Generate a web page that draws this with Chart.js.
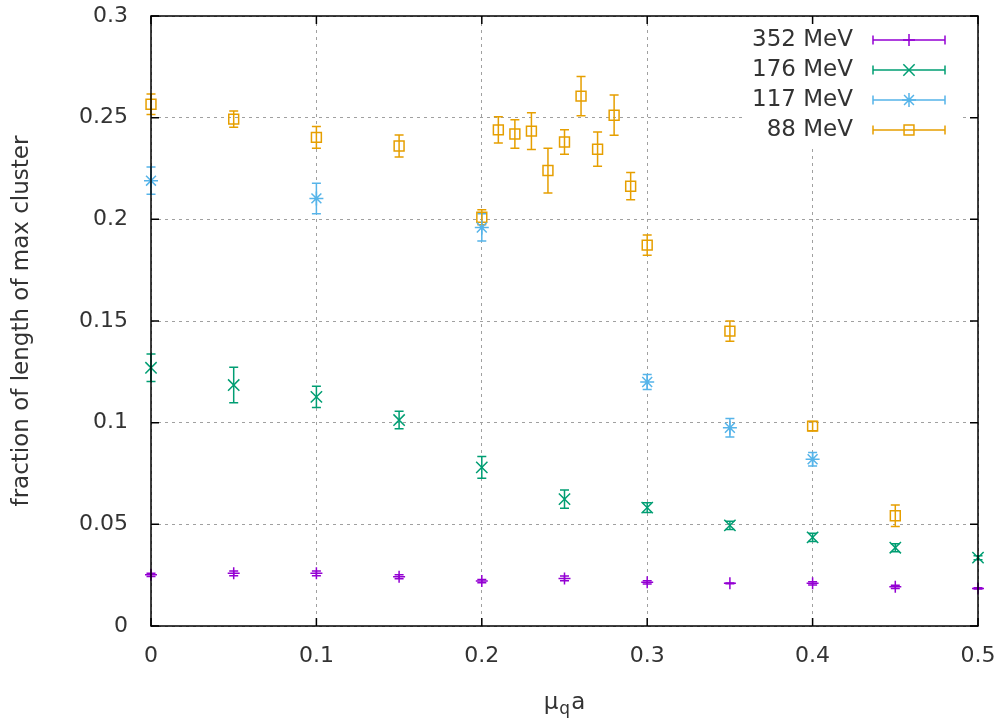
<!DOCTYPE html>
<html>
<head>
<meta charset="utf-8">
<script src="https://cdn.jsdelivr.net/npm/chart.js@4/dist/chart.umd.min.js"></script>
<style>
  body { margin: 0; background: #fff; }
  #wrap { width: 996px; height: 721px; }
</style>
</head>
<body>
<div id="wrap"><canvas id="chart"></canvas></div>
<script>
// data
const seriesNames = ['352 MeV', '176 MeV', '117 MeV', '88 MeV'];

const x352 = [0, 0.05, 0.1, 0.15, 0.2, 0.25, 0.3, 0.35, 0.4, 0.45, 0.5];
const y352 = [0.0252, 0.0259, 0.0259, 0.0242, 0.0221, 0.0234, 0.0215, 0.0210, 0.0210, 0.0193, 0.0185];
const e352 = [0.0008, 0.0012, 0.0012, 0.0010, 0.0008, 0.0012, 0.0008, 0.0002, 0.0008, 0.0008, 0.0003];

const x176 = [0, 0.05, 0.1, 0.15, 0.2, 0.25, 0.3, 0.35, 0.4, 0.45, 0.5];
const y176 = [0.127, 0.1185, 0.1127, 0.1013, 0.078, 0.0624, 0.0582, 0.0495, 0.0436, 0.0385, 0.0336];
const e176 = [0.0068, 0.0087, 0.0052, 0.0043, 0.0053, 0.0045, 0.0024, 0.0020, 0.0020, 0.0020, 0.0010];

const x117 = [0, 0.1, 0.2, 0.3, 0.35, 0.4];
const y117 = [0.219, 0.2103, 0.196, 0.120, 0.0975, 0.082];
const e117 = [0.0067, 0.0075, 0.0067, 0.0037, 0.0045, 0.0033];

const x88 = [0, 0.05, 0.1, 0.15, 0.2, 0.21, 0.22, 0.23, 0.24, 0.25, 0.26, 0.27, 0.28, 0.29, 0.3, 0.35, 0.4, 0.45];
const y88 = [0.2566, 0.2493, 0.2403, 0.2361, 0.201, 0.244, 0.242, 0.2434, 0.224, 0.238, 0.2606, 0.2345, 0.2512, 0.2163, 0.1873, 0.145, 0.0983, 0.0542];
const e88 = [0.005, 0.004, 0.0053, 0.0054, 0.0037, 0.0064, 0.007, 0.009, 0.011, 0.006, 0.0096, 0.0084, 0.0099, 0.0067, 0.005, 0.005, 0.0023, 0.0053];

const xTicks = [0, 0.1, 0.2, 0.3, 0.4, 0.5];
const xTickLabels = ['0', '0.1', '0.2', '0.3', '0.4', '0.5'];
const yTicks = [0, 0.05, 0.1, 0.15, 0.2, 0.25, 0.3];
const yTickLabels = ['0', '0.05', '0.1', '0.15', '0.2', '0.25', '0.3'];

const colors = ['#9400d3', '#009e73', '#56b4e9', '#e69f00'];
const styles = ['cross', 'crossRot', 'star', 'rect'];
const radii = [6, 8, 7, 7];

const FONT = '"DejaVu Sans", sans-serif';
const TEXT = '#333';

function makeSet(i, xs, ys, es) {
    return {
        label: seriesNames[i],
        data: xs.map((x, k) => ({ x: x, y: ys[k], err: es[k] })),
        pointStyle: styles[i],
        pointRadius: radii[i],
        pointHoverRadius: radii[i],
        borderColor: colors[i],
        backgroundColor: 'rgba(0,0,0,0)',
        pointBorderWidth: 1.5,
        showLine: false,
        clip: false
    };
}

// error bars, drawn with the chart's own scales
const errorBars = {
    id: 'errorBars',
    beforeDatasetsDraw(chart) {
        const ctx = chart.ctx;
        const xs = chart.scales.x, ys = chart.scales.y;
        ctx.save();
        ctx.lineWidth = 1.5;
        chart.data.datasets.forEach(ds => {
            ctx.strokeStyle = ds.borderColor;
            ds.data.forEach(p => {
                const px = xs.getPixelForValue(p.x);
                const top = ys.getPixelForValue(p.y + p.err);
                const bot = ys.getPixelForValue(p.y - p.err);
                ctx.beginPath();
                ctx.moveTo(px, top); ctx.lineTo(px, bot);
                ctx.moveTo(px - 4.5, top); ctx.lineTo(px + 4.5, top);
                ctx.moveTo(px - 4.5, bot); ctx.lineTo(px + 4.5, bot);
                ctx.stroke();
            });
        });
        ctx.restore();
    }
};

// frame, inner ticks, legend and axis titles
const decorations = {
    id: 'decorations',
    afterDatasetsDraw(chart) {
        const ctx = chart.ctx;
        const a = chart.chartArea;
        const xs = chart.scales.x, ys = chart.scales.y;
        ctx.save();
        ctx.strokeStyle = '#000';
        ctx.lineWidth = 1.5;
        ctx.strokeRect(a.left, a.top, a.right - a.left, a.bottom - a.top);
        ctx.beginPath();
        xTicks.forEach(v => {
            const px = xs.getPixelForValue(v);
            ctx.moveTo(px, a.bottom); ctx.lineTo(px, a.bottom - 8);
            ctx.moveTo(px, a.top); ctx.lineTo(px, a.top + 8);
        });
        yTicks.forEach(v => {
            const py = ys.getPixelForValue(v);
            ctx.moveTo(a.left, py); ctx.lineTo(a.left + 8, py);
            ctx.moveTo(a.right, py); ctx.lineTo(a.right - 8, py);
        });
        ctx.stroke();

        // legend
        ctx.fillStyle = '#fff';
        ctx.fillRect(743, 24, 219, 122);
        ctx.font = '23px ' + FONT;
        ctx.textAlign = 'right';
        ctx.textBaseline = 'middle';
        chart.data.datasets.forEach((ds, i) => {
            const yy = 40 + i * 30;
            ctx.fillStyle = TEXT;
            ctx.fillText(ds.label, 853, yy);
            ctx.strokeStyle = ds.borderColor;
            ctx.lineWidth = 1.5;
            ctx.beginPath();
            ctx.moveTo(873, yy); ctx.lineTo(945, yy);
            ctx.moveTo(873, yy - 4.5); ctx.lineTo(873, yy + 4.5);
            ctx.moveTo(945, yy - 4.5); ctx.lineTo(945, yy + 4.5);
            ctx.stroke();
            ctx.fillStyle = 'rgba(0,0,0,0)';
            Chart.helpers.drawPoint(ctx, {
                pointStyle: ds.pointStyle, radius: ds.pointRadius,
                borderWidth: 1.5, rotation: 0
            }, 909, yy);
        });

        // y title
        ctx.fillStyle = TEXT;
        ctx.font = '23px ' + FONT;
        ctx.textAlign = 'center';
        ctx.textBaseline = 'middle';
        ctx.translate(22, (a.top + a.bottom) / 2);
        ctx.rotate(-Math.PI / 2);
        ctx.fillText('fraction of length of max cluster', 0, 0);
        ctx.setTransform(1, 0, 0, 1, 0, 0);

        // x title with subscript
        ctx.textAlign = 'left';
        ctx.textBaseline = 'alphabetic';
        const big = '23px ' + FONT, small = '17px ' + FONT;
        ctx.font = big; const w1 = ctx.measureText('μ').width; const w3 = ctx.measureText('a').width;
        ctx.font = small; const w2 = ctx.measureText('q').width;
        let cx = (a.left + a.right) / 2 - (w1 + w2 + w3 + 2) / 2;
        ctx.font = big; ctx.fillText('μ', cx, 709); cx += w1 + 1;
        ctx.font = small; ctx.fillText('q', cx, 714); cx += w2 + 1;
        ctx.font = big; ctx.fillText('a', cx, 709);
        ctx.restore();
    }
};

function noPad(s) {
    s.paddingLeft = 0; s.paddingRight = 0;
    s.paddingTop = 0; s.paddingBottom = 0;
}

const ctx = document.getElementById('chart');
new Chart(ctx, {
    type: 'scatter',
    data: {
        datasets: [
            makeSet(0, x352, y352, e352),
            makeSet(1, x176, y176, e176),
            makeSet(2, x117, y117, e117),
            makeSet(3, x88, y88, e88)
        ]
    },
    options: {
        responsive: true,
        maintainAspectRatio: false,
        animation: false,
        layout: { padding: { top: 16, right: 18, left: 0, bottom: 0 } },
        plugins: { legend: { display: false }, tooltip: { enabled: false } },
        scales: {
            x: {
                type: 'linear', min: 0, max: 0.5,
                afterFit(s) { s.height = 95; noPad(s); },
                afterBuildTicks(s) { s.ticks = xTicks.map(v => ({ value: v })); },
                ticks: {
                    padding: 17, color: TEXT, font: { family: FONT, size: 22 },
                    callback: (v) => xTickLabels[xTicks.indexOf(v)]
                },
                grid: { color: '#a0a0a0', lineWidth: 1, drawTicks: false },
                border: { display: false, dash: [3, 4] }
            },
            y: {
                type: 'linear', min: 0, max: 0.3,
                afterFit(s) { s.width = 151; noPad(s); },
                afterBuildTicks(s) { s.ticks = yTicks.map(v => ({ value: v })); },
                ticks: {
                    padding: 23, color: TEXT, font: { family: FONT, size: 22 },
                    callback: (v) => yTickLabels[yTicks.indexOf(v)]
                },
                grid: { color: '#a0a0a0', lineWidth: 1, drawTicks: false },
                border: { display: false, dash: [3, 4] }
            }
        }
    },
    plugins: [errorBars, decorations]
});
</script>
</body>
</html>
